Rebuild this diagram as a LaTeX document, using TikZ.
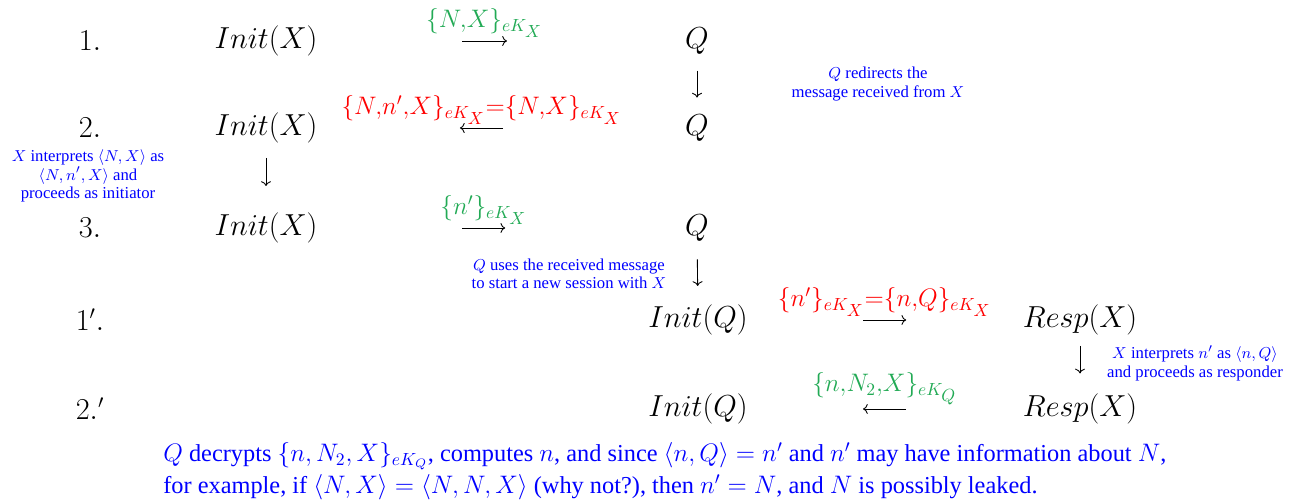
\documentclass[tikz,border=0pt]{standalone}
\usepackage[no-math]{fontspec}
\setmainfont{Liberation Serif}
\usetikzlibrary{arrows.meta,calc}
\definecolor{msggreen}{RGB}{34,170,85}
\begin{document}
\begin{tikzpicture}[
  party/.style={font=\fontsize{16}{19}\selectfont, inner sep=1pt},
  lbl/.style={font=\fontsize{20}{24}\selectfont, inner sep=1pt, above=1pt},
  note/.style={font=\fontsize{9.5}{10.4}\selectfont, text=blue, align=center, inner sep=0pt},
  msg/.style={-{Computer Modern Rightarrow}, line width=0.5pt}]
  \useasboundingbox (0,0) rectangle (26.06,-10);
  % step numbers
  \foreach \n/\t/\y in {s1/1./-0.82, s2/2./-2.56, s3/3./-4.56, s4/1'./-6.4, s5/2.'/-8.18}
    \node[party] (\n) at (1.8,\y) {$\t$};
  % principals
  \foreach \i/\y in {1/-0.82, 2/-2.56, 3/-4.56} {
    \node[party] (init\i) at (5.32,\y) {$Init(X)$};
    \node[party] (q\i) at (13.94,\y) {$Q$};
  }
  \foreach \i/\y in {1/-6.4, 2/-8.18} {
    \node[party] (initq\i) at (13.96,\y) {$Init(Q)$};
    \node[party] (resp\i) at (21.6,\y) {$Resp(X)$};
  }
  % messages
  \draw[msg] ($(init1)!0.455!(q1)$) -- node[lbl, text=msggreen] {$\scriptstyle\{N,X\}_{eK_X}$} ($(init1)!0.559!(q1)$);
  \draw[msg] ($(q2)!0.45!(init2)$) -- node[lbl, text=red] {$\scriptstyle\{N,n',X\}_{eK_X}=\{N,X\}_{eK_X}$} ($(q2)!0.55!(init2)$);
  \draw[msg] ($(init3)!0.455!(q3)$) -- node[lbl, text=msggreen] {$\scriptstyle\{n'\}_{eK_X}$} ($(init3)!0.555!(q3)$);
  \draw[msg] ($(initq1)!0.432!(resp1)$) -- node[lbl, text=red] {$\scriptstyle\{n'\}_{eK_X}=\{n,Q\}_{eK_X}$} ($(initq1)!0.545!(resp1)$);
  \draw[msg] ($(resp2)!0.455!(initq2)$) -- node[lbl, text=msggreen] {$\scriptstyle\{n,N_2,X\}_{eK_Q}$} ($(resp2)!0.568!(initq2)$);
  % hand-overs
  \draw[msg] ($(q1)!0.34!(q2)$) -- ($(q1)!0.65!(q2)$);
  \draw[msg] ($(init2)!0.30!(init3)$) -- ($(init2)!0.58!(init3)$);
  \draw[msg] ($(q3)!0.34!(initq1)$) -- ($(q3)!0.63!(initq1)$);
  \draw[msg] ($(resp1)!0.29!(resp2)$) -- ($(resp1)!0.60!(resp2)$);
  % remarks
  \node[note] (n1) at (17.56,-1.68) {$Q$ redirects the\\message received from $X$};
  \node[note] (n2) at (1.76,-3.52) {$X$ interprets $\langle N, X\rangle$ as\\$\langle N, n', X\rangle$ and\\proceeds as initiator};
  \node[note] (n3) at (11.38,-5.48) {$Q$ uses the received message\\to start a new session with $X$};
  \node[note] (n4) at (23.9,-7.26) {$X$ interprets $n'$ as $\langle n, Q\rangle$\\and proceeds as responder};
  \node[note, font=\fontsize{13.85}{18.2}\selectfont, align=left, anchor=west] (n5) at (3.26,-9.42)
    {$Q$ decrypts $\{n, N_2, X\}_{eK_Q}$, computes $n$, and since $\langle n, Q\rangle = n'$ and $n'$ may have information about $N$,\\
     for example, if $\langle N, X\rangle = \langle N, N, X\rangle$ (why not?), then $n' = N$, and $N$ is possibly leaked.};
\end{tikzpicture}
\end{document}
